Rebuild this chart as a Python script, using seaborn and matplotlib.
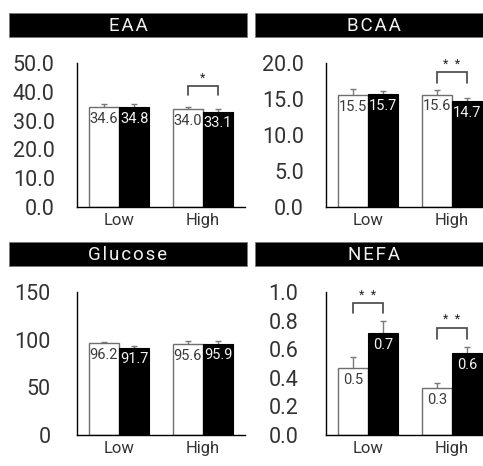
import numpy as np
import pandas as pd
import matplotlib
matplotlib.use("Agg")
import matplotlib.pyplot as plt
from matplotlib.patches import Rectangle
import seaborn as sns

sns.set_theme(style="white")
plt.rcParams["font.family"] = ["Roboto", "DejaVu Sans"]

# ---- data -------------------------------------------------------------
levels = ["Low", "High"]
groups = ["Control", "Treated"]

eaa_values = [34.6, 34.8, 34.0, 33.1]
eaa_errors = [1.0, 0.8, 0.8, 0.9]

bcaa_values = [15.5, 15.7, 15.6, 14.7]
bcaa_errors = [0.85, 0.45, 0.65, 0.5]

glucose_values = [96.2, 91.7, 95.6, 95.9]
glucose_errors = [1.7, 1.7, 3.4, 3.1]

nefa_values = [0.47, 0.71, 0.33, 0.57]
nefa_errors = [0.073, 0.087, 0.036, 0.043]

panel_titles = ["EAA", "BCAA", "Glucose", "NEFA"]
eaa_ticks = [0, 10, 20, 30, 40, 50]
bcaa_ticks = [0, 5, 10, 15, 20]
glucose_ticks = [0, 50, 100, 150]
nefa_ticks = [0.0, 0.2, 0.4, 0.6, 0.8, 1.0]

# significance marks: (level index, bracket bottom, bracket top, stars)
eaa_sig = [(1, 38.9, 42.0, "*")]
bcaa_sig = [(1, 17.2, 18.75, "*\u2002*")]
glucose_sig = []
nefa_sig = [(0, 0.85, 0.92, "*\u2002*"), (1, 0.67, 0.75, "*\u2002*")]

# ---- figure -------------------------------------------------------------
W, H = 483, 466
fig = plt.figure(figsize=(W / 100, H / 100), dpi=100)


def frac_box(x0, y0, x1, y1):
    """pixel box (top-left origin) -> figure fraction [l, b, w, h]"""
    return [x0 / W, (H - y1) / H, (x1 - x0) / W, (y1 - y0) / H]


panels = [
    dict(values=eaa_values, errors=eaa_errors, ticks=eaa_ticks, tfmt="{:.1f}",
         vfmt="{:.1f}", sig=eaa_sig, box=(77, 63, 245, 207), bar=(9, 13, 247, 37), pad=16),
    dict(values=bcaa_values, errors=bcaa_errors, ticks=bcaa_ticks, tfmt="{:.1f}",
         vfmt="{:.1f}", sig=bcaa_sig, box=(326, 63, 494, 207), bar=(255, 13, 493, 37), pad=16),
    dict(values=glucose_values, errors=glucose_errors, ticks=glucose_ticks, tfmt="{:.0f}",
         vfmt="{:.1f}", sig=glucose_sig, box=(77, 292, 245, 435), bar=(9, 242, 247, 266), pad=19),
    dict(values=nefa_values, errors=nefa_errors, ticks=nefa_ticks, tfmt="{:.1f}",
         vfmt="{:.1f}", sig=nefa_sig, box=(326, 292, 494, 435), bar=(255, 242, 493, 266), pad=20),
]

for title, p in zip(panel_titles, panels):
    ax = fig.add_axes(frac_box(*p["box"]))
    df = pd.DataFrame({
        "level": np.repeat(levels, len(groups)),
        "group": groups * len(levels),
        "value": p["values"],
    })
    sns.barplot(data=df, x="level", y="value", hue="group", order=levels,
                hue_order=groups, palette=["white", "black"], width=0.72,
                errorbar=None, legend=False, ax=ax, saturation=1)

    # bars come out hue-major: Control Low, Control High, Treated Low, Treated High
    bars = {}
    for patch, (g, lv) in zip(ax.patches, [(g, lv) for g in groups for lv in levels]):
        bars[(lv, g)] = patch
        if g == "Control":
            patch.set_edgecolor("#6e6e6e")
            patch.set_linewidth(1.0)
        else:
            patch.set_edgecolor("black")
            patch.set_linewidth(0.8)
        patch.set_zorder(2)

    for i, (lv, g) in enumerate([(lv, g) for lv in levels for g in groups]):
        patch = bars[(lv, g)]
        xc = patch.get_x() + patch.get_width() / 2
        v = p["values"][i]
        e = p["errors"][i]
        ax.errorbar(xc, v, yerr=e, fmt="none", ecolor="#7a7a7a",
                    elinewidth=1.0, capsize=2.5, capthick=1.0, zorder=1)
        ax.annotate(p["vfmt"].format(v), (xc, v), xytext=(0, -8.5),
                    textcoords="offset points", ha="center", va="center",
                    fontsize=10.5, color="#3a3a3a" if g == "Control" else "#f4f4f4",
                    zorder=3)

    for li, y0, y1, stars in p["sig"]:
        lv = levels[li]
        xa = bars[(lv, groups[0])]
        xb = bars[(lv, groups[1])]
        x0 = xa.get_x() + xa.get_width() / 2
        x1 = xb.get_x() + xb.get_width() / 2
        ax.plot([x0, x0, x1, x1], [y0, y1, y1, y0], color="#444444", lw=1.2,
                solid_joinstyle="miter", zorder=3, clip_on=False)
        ax.annotate(stars, ((x0 + x1) / 2, y1), xytext=(0, 1), textcoords="offset points",
                    ha="center", va="bottom", fontsize=9, color="#222222",
                    family=["Roboto", "DejaVu Sans"])

    ax.set_xlim(-0.5, 1.5)
    ax.set_ylim(p["ticks"][0], p["ticks"][-1])
    ax.set_yticks(p["ticks"])
    ax.set_yticklabels([p["tfmt"].format(t) for t in p["ticks"]])
    ax.set_xlabel("")
    ax.set_ylabel("")
    sns.despine(ax=ax)
    for s in ("left", "bottom"):
        ax.spines[s].set_color("black")
        ax.spines[s].set_linewidth(1.0)
    ax.tick_params(axis="y", length=0, pad=p["pad"], labelsize=15.5, labelcolor="#333333")
    ax.tick_params(axis="x", length=0, pad=4, labelsize=12, labelcolor="#333333")

    # black title strip with spaced white lettering
    bx0, by0, bx1, by1 = p["bar"]
    l, b, w, h = frac_box(bx0, by0, bx1, by1)
    fig.patches.append(Rectangle((l, b), w, h, transform=fig.transFigure,
                                 facecolor="black", edgecolor="#777777", lw=0.6))
    fig.text(((bx0 + bx1) / 2) / W, b + h / 2 - 0.002,
             "\u200a".join(title), ha="center", va="center", fontsize=13.5,
             color="#f0f0f0", family=["Roboto", "DejaVu Sans"])

fig.savefig("out.png", dpi=100)
